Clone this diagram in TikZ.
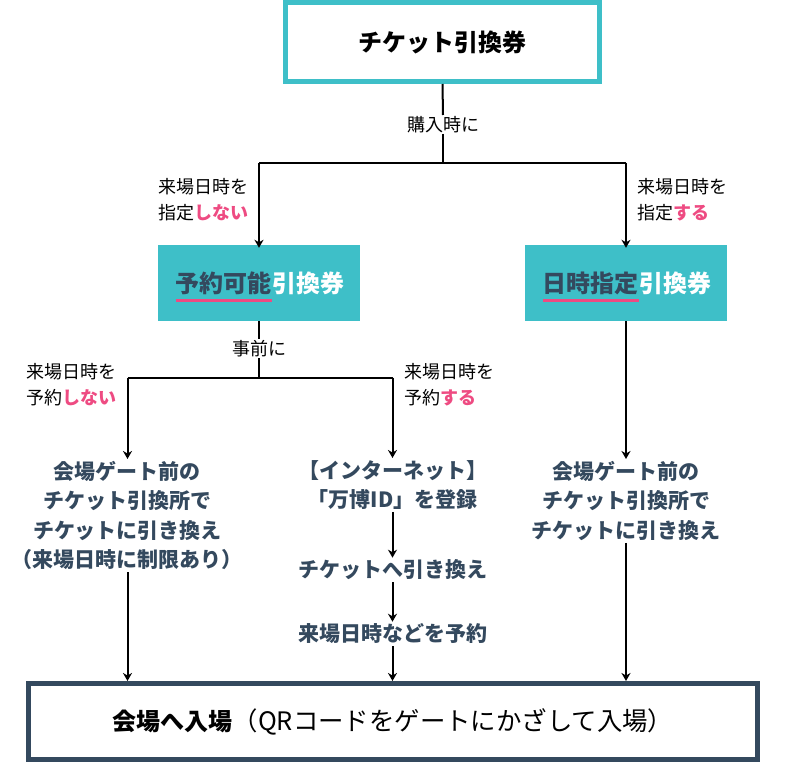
\documentclass[tikz,border=0pt]{standalone}
\usepackage{fontspec}
\setmainfont{Noto Sans CJK JP}
\usetikzlibrary{arrows.meta}
\definecolor{teal}{HTML}{3EBFC8}
\definecolor{navy}{HTML}{34495E}
\definecolor{pinkx}{HTML}{EE4B82}
\tikzset{
  conn/.style={line width=2pt, black},
  arr/.style={conn, -{Stealth[length=8pt,width=9pt,inset=2.5pt]}},
  lbl/.style={font=\fontsize{18}{26}\selectfont, align=left, inner sep=0pt},
  midlbl/.style={font=\fontsize{18}{20}\selectfont, fill=white, inner sep=1pt},
  flowtxt/.style={font=\bfseries\fontsize{21}{29.5}\selectfont, text=navy, align=center, inner sep=2pt},
  tealtxt/.style={font=\bfseries\fontsize{24}{28}\selectfont, inner sep=0pt},
  tealbox/.style={fill=teal, minimum width=202pt, minimum height=76pt},
}
\newcommand{\pk}[1]{{\bfseries\color{pinkx}#1}}
\begin{document}
\begin{tikzpicture}[x=1pt,y=1pt,yscale=-1,xscale=1]
\useasboundingbox (0,0) rectangle (785,768);

% boxes
\node [draw=teal, line width=5pt, minimum width=314pt, minimum height=79pt, font=\bfseries\fontsize{24}{28}\selectfont] (ticket) at (442.5,42) {チケット引換券};
\node [tealbox] (boxL) at (259,283) {};
\node [tealbox] (boxR) at (626,283) {};
\node [draw=navy, line width=5pt, minimum width=729pt, minimum height=76pt] (entry) at (393,721.5) {{\bfseries\fontsize{24}{28}\selectfont 会場へ入場}{\fontsize{25.4}{28}\selectfont（QRコードをゲートにかざして入場）}};

% teal box texts
\node [tealtxt, text=navy, anchor=east] (kanoL) at (272,283) {予約可能};
\node [tealtxt, text=white, anchor=west] (hikiL) at (kanoL.east) {引換券};
\node [tealtxt, text=navy, anchor=east] (shiteiR) at (639,283) {日時指定};
\node [tealtxt, text=white, anchor=west] (hikiR) at (shiteiR.east) {引換券};
\coordinate (uline) at (0,300.5);
\draw [pinkx, line width=3pt] (kanoL.west |- uline) -- (kanoL.east |- uline);
\draw [pinkx, line width=3pt] (shiteiR.west |- uline) -- (shiteiR.east |- uline);

% first branch
\node [midlbl] (konyu) at (443,124.5) {購入時に};
\coordinate (forkA) at (443,162.5);
\coordinate (forkAL) at (259,162.5);
\coordinate (forkAR) at (626,162.5);
\draw [conn] (ticket.south) -- (konyu.north);
\draw [conn] (konyu.south) -- (forkA);
\draw [conn] (forkAL) -- (forkAR);
\draw [arr] (forkAL) -- ([yshift=3pt]boxL.north);
\draw [arr] (forkAR) -- ([yshift=3pt]boxR.north);
\node [lbl, anchor=east] (labA1) at (249,200) {来場日時を\\指定\pk{しない}};
\node [lbl, anchor=west] (labA2) at (637,200) {来場日時を\\指定\pk{する}};

% second branch
\node [midlbl] (jizen) at (259,348.5) {事前に};
\coordinate (forkB) at (259,377.5);
\coordinate (forkBL) at (127.5,377.5);
\coordinate (forkBR) at (392.5,377.5);
\draw [conn] (boxL.south) -- (jizen.north);
\draw [conn] (jizen.south) -- (forkB);
\draw [conn] (forkBL) -- (forkBR);
\node [lbl, anchor=east] (labB1) at (117,385) {来場日時を\\予約\pk{しない}};
\node [lbl, anchor=west] (labB2) at (404,385) {来場日時を\\予約\pk{する}};

% columns
\node [flowtxt, anchor=north] (gateL) at (127.5,459) {会場ゲート前の\\チケット引換所で\\チケットに引き換え\\（来場日時に制限あり）};
\node [flowtxt, anchor=north] (netM) at (392.5,458) {【インターネット】\\「万博ID」を登録};
\node [flowtxt] (swapM) at (392.5,570) {チケットへ引き換え};
\node [flowtxt] (rsvM) at (392.5,634) {来場日時などを予約};
\node [flowtxt, anchor=north] (gateR) at (626,459) {会場ゲート前の\\チケット引換所で\\チケットに引き換え};

\draw [arr] (forkBL) -- (gateL.north);
\draw [arr] (forkBR) -- (netM.north);
\draw [arr] (boxR.south) -- (gateR.north);
\draw [arr] (netM.south) -- (swapM.north);
\draw [arr] (swapM.south) -- (rsvM.north);
\draw [arr] (rsvM.south) -- (rsvM |- entry.north);
\draw [arr] (gateL.south) -- (gateL |- entry.north);
\draw [arr] (gateR.south) -- (gateR |- entry.north);

\end{tikzpicture}
\end{document}
